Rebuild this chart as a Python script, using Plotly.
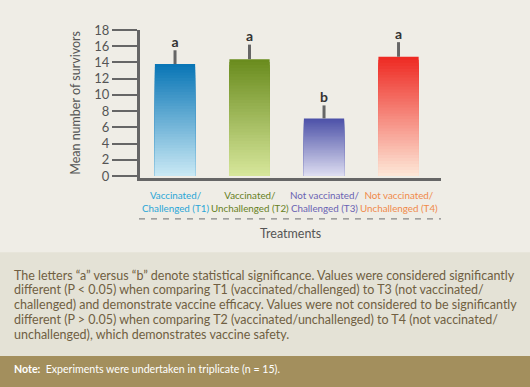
import plotly.graph_objects as go

# ---- data ----
categories = ["T1", "T2", "T3", "T4"]
category_labels = ["Vaccinated/<br>Challenged (T1)", "Vaccinated/<br>Unchallenged (T2)",
                   "Not vaccinated/<br>Challenged (T3)", "Not vaccinated/<br>Unchallenged (T4)"]
mean_survivors = [13.8, 14.4, 7.1, 14.7]
error_plus = [1.7, 1.8, 1.6, 1.8]
sig_letters = ["a", "a", "b", "a"]
y_ticks = [0, 2, 4, 6, 8, 10, 12, 14, 16, 18]

paragraph_lines = [
    "The letters \u201ca\u201d versus \u201cb\u201d denote statistical significance. Values were considered significantly",
    "different (P < 0.05) when comparing T1 (vaccinated/challenged) to T3 (not vaccinated/",
    "challenged) and demonstrate vaccine efficacy. Values were not considered to be significantly",
    "different (P > 0.05) when comparing T2 (vaccinated/unchallenged) to T4 (not vaccinated/",
    "unchallenged), which demonstrates vaccine safety.",
]
note_text = "<b>Note:</b>  Experiments were undertaken in triplicate (n = 15)."

# ---- styles ----
top_colors = ["#0a76b6", "#6a8c1e", "#4d52a8", "#ee2b24"]
bottom_colors = ["#c8e8f4", "#d6e69a", "#dcdcf0", "#fde6d6"]
label_colors = ["#2aa6d6", "#667f22", "#6a63b3", "#f08a4a"]
FONT = "Lato, sans-serif"
W, H = 530, 387
ML, MR, MT, MB = 140, 89, 30, 208.5
PW, PH = W - ML - MR, H - MT - MB


def px(x):
    return (x - ML) / PW


def py(y):
    return (H - MB - y) / PH


def hex2rgb(h):
    h = h.lstrip("#")
    return tuple(int(h[i:i + 2], 16) for i in (0, 2, 4))


def mix(c1, c2, t):
    a, b = hex2rgb(c1), hex2rgb(c2)
    return "rgb(%d,%d,%d)" % tuple(round(a[i] + (b[i] - a[i]) * t) for i in range(3))


fig = go.Figure()

# gradient bars: overlaid bars of decreasing height
N = 40
for k in range(N):
    frac = (N - k) / N
    t = k / (N - 1)
    fig.add_trace(go.Bar(
        x=categories, y=[v * frac for v in mean_survivors],
        marker=dict(color=[mix(top_colors[i], bottom_colors[i], t) for i in range(4)],
                    line=dict(width=0)),
        width=0.54, showlegend=False, hoverinfo="skip"))

# error bars
fig.add_trace(go.Scatter(
    x=categories, y=mean_survivors, mode="markers",
    marker=dict(size=1, color="rgba(0,0,0,0)"),
    error_y=dict(type="data", symmetric=False, array=error_plus,
                 arrayminus=[0] * 4, color="#666666", thickness=3, width=0),
    showlegend=False, hoverinfo="skip"))

# significance letters
fig.add_trace(go.Scatter(
    x=categories, y=[m + e for m, e in zip(mean_survivors, error_plus)],
    mode="text", text=["<b>%s</b>" % s for s in sig_letters], textposition="top center",
    textfont=dict(family=FONT, size=14, color="#333333"),
    showlegend=False, hoverinfo="skip"))

annotations = []
for i, lab in enumerate(category_labels):
    annotations.append(dict(x=categories[i], xref="x", y=py(188), yref="paper",
                            yanchor="top", xanchor="center", text=lab, showarrow=False,
                            font=dict(family=FONT, size=9.8, color=label_colors[i])))
annotations.append(dict(x=px(290), xref="paper", y=py(234), yref="paper",
                        text="Treatments", showarrow=False, xanchor="center", yanchor="middle",
                        font=dict(family=FONT, size=12.5, color="#555555")))
annotations.append(dict(x=px(76), xref="paper", y=py(103), yref="paper",
                        text="Mean number of survivors", textangle=-90, showarrow=False,
                        xanchor="center", yanchor="middle",
                        font=dict(family=FONT, size=12.5, color="#555555")))
for j, line in enumerate(paragraph_lines):
    annotations.append(dict(x=px(12), xref="paper", y=py(276 + j * 14.8), yref="paper",
                            xanchor="left", yanchor="middle", text=line, showarrow=False,
                            font=dict(family=FONT, size=12.5, color="#705f42")))
annotations.append(dict(x=px(12), xref="paper", y=py(370), yref="paper",
                        xanchor="left", yanchor="middle", text=note_text, showarrow=False,
                        font=dict(family=FONT, size=10.6, color="#ffffff")))

shapes = [
    dict(type="rect", xref="paper", yref="paper", x0=px(0), x1=px(W), y0=py(253), y1=py(357),
         fillcolor="#e4e2d6", line=dict(width=0), layer="below"),
    dict(type="rect", xref="paper", yref="paper", x0=px(0), x1=px(W), y0=py(357), y1=py(H + 2),
         fillcolor="#a38f5d", line=dict(width=0), layer="below"),
    dict(type="line", xref="paper", yref="paper", x0=px(139), x1=px(441), y0=py(219.5), y1=py(219.5),
         line=dict(color="#888888", width=1.2, dash="6px,6px")),
]

fig.update_layout(
    width=W, height=H,
    margin=dict(l=ML, r=MR, t=MT, b=MB, pad=0, autoexpand=False),
    paper_bgcolor="#efede6", plot_bgcolor="#efede6",
    barmode="overlay", bargap=0.46,
    xaxis=dict(type="category", range=[-0.47, 3.57], showticklabels=False, ticks="",
               showgrid=False, zeroline=False, showline=True, linecolor="#666666",
               linewidth=3, fixedrange=True, automargin=False),
    yaxis=dict(range=[-0.25, 18], tickvals=y_ticks, ticks="outside", ticklen=25,
               tickwidth=2, tickcolor="#666666", showgrid=False, zeroline=False,
               showline=True, linecolor="#666666", linewidth=3, automargin=False,
               tickfont=dict(family=FONT, size=13, color="#555555"), fixedrange=True),
    annotations=annotations, shapes=shapes,
    showlegend=False,
)

fig.write_html("out.html", config={"displayModeBar": False},
               post_script="document.body.style.margin='0';")
